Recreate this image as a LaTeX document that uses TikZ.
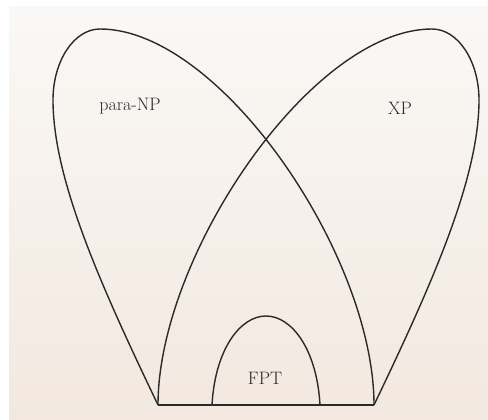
\documentclass[tikz,border=0pt]{standalone}
\usepackage{tikz}
\definecolor{bgtop}{HTML}{FAF8F6}
\definecolor{bgbot}{HTML}{F2E8DF}
\definecolor{ink}{HTML}{2A2A2A}
\tikzset{
  region/.style={draw=ink, line width=1.4pt, line join=round},
  lbl/.style={inner sep=0pt, text=ink, font=\fontsize{18}{21}\selectfont}
}
\begin{document}
\begin{tikzpicture}[x=1pt,y=-1pt]
\useasboundingbox (0,0) rectangle (488,420);
\fill[white] (0,0) rectangle (488,420);
\shade[top color=bgtop, bottom color=bgbot] (9,7) rectangle (488,420);
% base points
\coordinate (bl) at (158,405);
\coordinate (br) at (374,405);
\coordinate (fl) at (212,405);
\coordinate (fr) at (320,405);
% para-NP loop
\draw[region] (bl) .. controls (102,288) and (53,180) .. (53,100)
  .. controls (53,61) and (74,29) .. (100,29)
  .. controls (220,29) and (374,255) .. (br);
% XP loop (mirror)
\draw[region] (br) .. controls (430,288) and (479,180) .. (479,100)
  .. controls (479,61) and (458,29) .. (432,29)
  .. controls (312,29) and (158,255) .. (bl);
% FPT arch
\draw[region] (fl) .. controls (215,350) and (240,316) .. (266,316)
  .. controls (292,316) and (317,350) .. (fr);
% base line
\draw[region] (bl) -- (br);
% labels
\node[lbl] (pnp) at (130,106) {para-NP};
\node[lbl] (xp) at (400,108) {XP};
\node[lbl] (fpt) at (265,378) {FPT};
\end{tikzpicture}
\end{document}
